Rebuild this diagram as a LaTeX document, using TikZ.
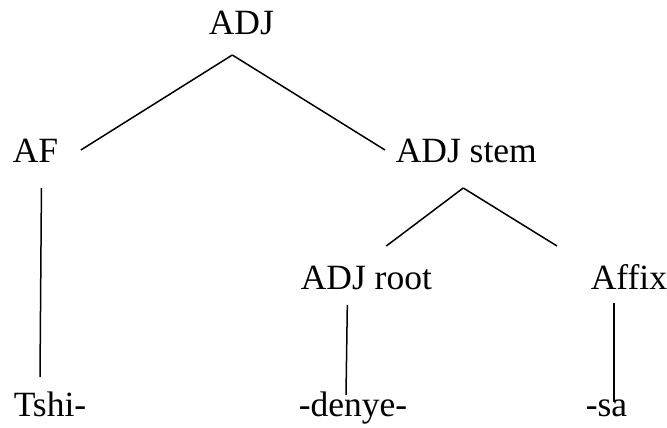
\documentclass[tikz,border=0pt]{standalone}
\usepackage{fontspec}
\setmainfont{Liberation Serif}
\usepackage{tikz}

\begin{document}
\begin{tikzpicture}[x=1pt,y=-1pt,line width=1.5pt,
  lbl/.style={inner sep=0pt,anchor=base west,font=\fontsize{35.5}{42}\selectfont}]

\useasboundingbox (0,0) rectangle (667,428);

% Labels
\node[lbl] (adj)   at (208,35)  {ADJ};
\node[lbl] (af)    at (12,162)  {AF};
\node[lbl] (stem)  at (395,162) {ADJ stem};
\node[lbl] (root)  at (300,289) {ADJ root};
\node[lbl] (affix) at (590,289) {Affix};
\node[lbl] (tshi)  at (13,416)  {Tshi-};
\node[lbl] (denye) at (298,416) {-denye-};
\node[lbl] (sa)    at (585,416) {-sa};

% Branches
\draw ([xshift=-9pt,yshift=-20pt]adj.base) -- ([xshift=22pt,yshift=12pt]af.base east);
\draw ([xshift=-9pt,yshift=-20pt]adj.base) -- ([xshift=-10pt,yshift=12pt]stem.base west);
\draw ([xshift=6pt,yshift=-26pt]af.base) -- ([xshift=27pt,yshift=39pt]tshi.base west);
\draw ([xshift=-3pt,yshift=-26pt]stem.base) -- ([xshift=20pt,yshift=43pt]root.base);
\draw ([xshift=-3pt,yshift=-26pt]stem.base) -- ([xshift=-33pt,yshift=43pt]affix.base west);
\draw ([xshift=-19pt,yshift=-16pt]root.base) -- ([xshift=48pt,yshift=21pt]denye.base west);
\draw ([xshift=24pt,yshift=-14pt]affix.base west) -- ([xshift=29pt,yshift=14pt]sa.base west);

\end{tikzpicture}
\end{document}
